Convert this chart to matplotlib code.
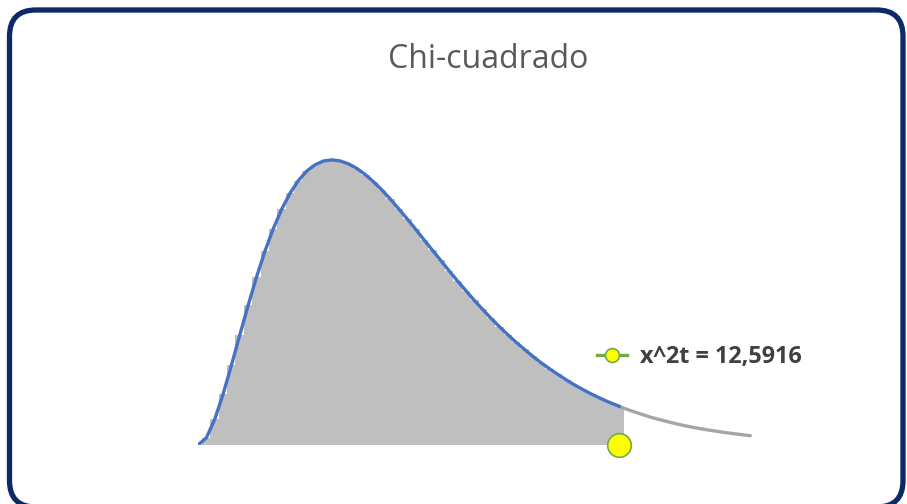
import numpy as np
import matplotlib
matplotlib.use("Agg")
import matplotlib.pyplot as plt
from matplotlib.lines import Line2D
from matplotlib.patches import FancyBboxPatch

# chi-square curve (6 degrees of freedom), every 0.25
x_vals = [0.0, 0.25, 0.5, 0.75, 1.0, 1.25, 1.5, 1.75, 2.0, 2.25, 2.5, 2.75,
          3.0, 3.25, 3.5, 3.75, 4.0, 4.25, 4.5, 4.75, 5.0, 5.25, 5.5, 5.75,
          6.0, 6.25, 6.5, 6.75, 7.0, 7.25, 7.5, 7.75, 8.0, 8.25, 8.5, 8.75,
          9.0, 9.25, 9.5, 9.75, 10.0, 10.25, 10.5, 10.75, 11.0, 11.25, 11.5,
          11.75, 12.0, 12.25, 12.5, 12.5916, 12.75, 13.0, 13.25, 13.5, 13.75,
          14.0, 14.25, 14.5, 14.75, 15.0, 15.25, 15.5, 15.75, 16.0, 16.25, 16.5]
pdf_vals = [0.0, 0.0034, 0.0122, 0.0242, 0.0379, 0.0523, 0.0664, 0.0798,
            0.0920, 0.1027, 0.1119, 0.1195, 0.1255, 0.1300, 0.1330, 0.1348,
            0.1353, 0.1348, 0.1334, 0.1312, 0.1283, 0.1248, 0.1209, 0.1166,
            0.1120, 0.1073, 0.1024, 0.0974, 0.0925, 0.0876, 0.0827, 0.0779,
            0.0733, 0.0687, 0.0644, 0.0602, 0.0562, 0.0524, 0.0488, 0.0454,
            0.0421, 0.0390, 0.0362, 0.0335, 0.0309, 0.0285, 0.0263, 0.0242,
            0.0223, 0.0205, 0.0189, 0.0183, 0.0173, 0.0159, 0.0146, 0.0133,
            0.0122, 0.0112, 0.0102, 0.0093, 0.0085, 0.0078, 0.0071, 0.0065,
            0.0059, 0.0054, 0.0049, 0.0044]

x_crit = 12.5916
label = "x^2t = 12,5916"
title = "Chi-cuadrado"

x = np.array(x_vals)
y = np.array(pdf_vals)
inside = x <= x_crit
outside = x >= x_crit

W, H = 907, 504
fig = plt.figure(figsize=(W / 100, H / 100), dpi=100)

# rounded navy frame (bottom edge runs just past the picture)
frame = FancyBboxPatch((9.5 / W, -3 / H), (903 - 9.5) / W, (494 + 3) / H,
                       boxstyle="round,pad=0,rounding_size=0.029",
                       transform=fig.transFigure, facecolor="none",
                       edgecolor="#0B2A66", linewidth=3.8, zorder=-1,
                       mutation_aspect=W / H)
fig.patches.append(frame)

ax = fig.add_axes([198 / W, (H - 445) / H, (752 - 198) / W, (445 - 150) / H])
ax.set_xlim(0, 16.55)
ax.set_ylim(0, 0.140)
ax.axis("off")

# shaded acceptance area as thin columns
ax.bar(x[inside], y[inside], width=0.26, color="#BFBFBF", linewidth=0,
       antialiased=False, zorder=1)

# curve: blue up to critical value, gray tail after it
ax.plot(x[outside], y[outside], color="#A5A5A5", lw=2.4, zorder=2,
        solid_capstyle="round")
ax.plot(x[inside], y[inside], color="#4472C4", lw=2.4, zorder=3,
        solid_capstyle="round")

# critical value marker on the axis
ax.plot([x_crit], [0], "o", ms=17, mfc="#FFFF00", mec="#70AD47", mew=1.2,
        zorder=4, clip_on=False)

key = Line2D([], [], color="#70AD47", lw=2.4, marker="o", ms=10,
             mfc="#FFFF00", mec="#70AD47", mew=1.2)
fig.legend([key], [label], loc="center left",
           bbox_to_anchor=(597 / W, 1 - 357 / H), frameon=False,
           handlelength=1.3, handletextpad=0.55, borderpad=0,
           borderaxespad=0,
           prop={"family": "Open Sans", "weight": "bold", "size": 16.8},
           labelcolor="#404040")

fig.text(488 / W, 1 - 60 / H, title, ha="center", va="center",
         family="Open Sans", fontsize=23, color="#595959")

fig.savefig("out.png", dpi=100)
